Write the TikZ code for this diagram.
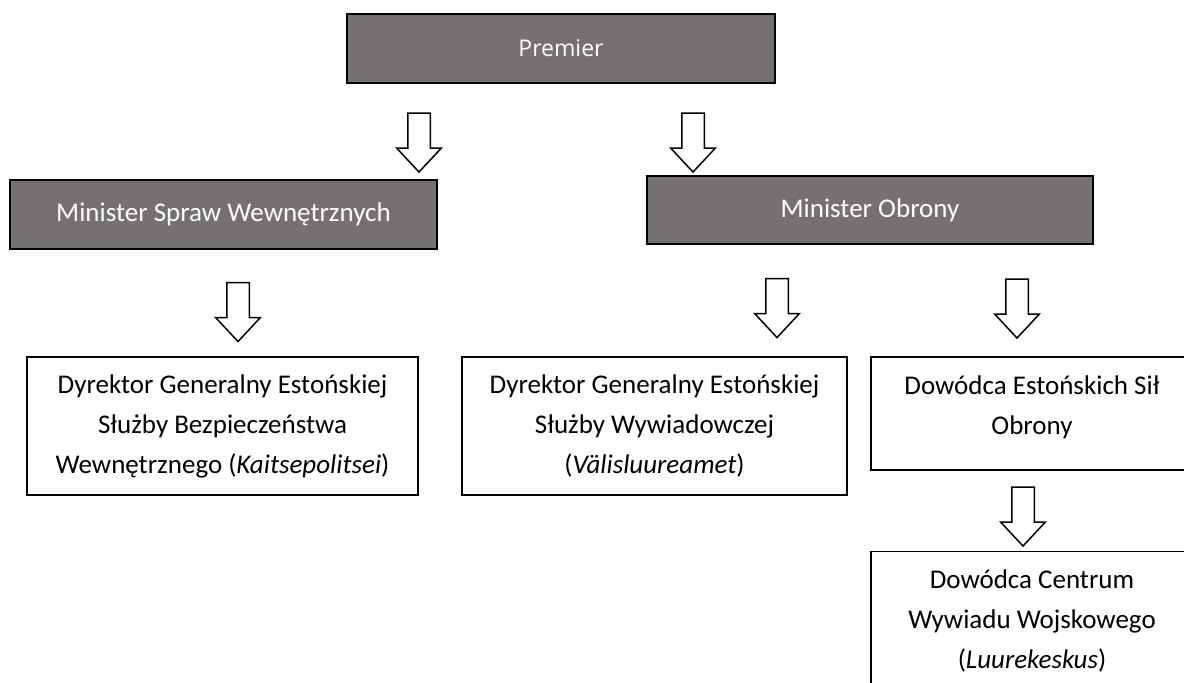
\documentclass[tikz,border=0pt]{standalone}
\usepackage{fontspec}
\setmainfont{Carlito}
\newfontfamily\premierfont{Open Sans}
\usetikzlibrary{positioning, shapes.arrows}
\definecolor{szary}{HTML}{767171}

\begin{document}
\begin{tikzpicture}[
        x=0.5pt, y=-0.5pt,
        every node/.style={font=\fontsize{13.5}{20}\selectfont}, % Carlito jako Calibri
        ciemny/.style={draw=black, line width=1pt, fill=szary, text=white, rectangle, inner sep=0pt},
        jasny/.style={draw=black, line width=0.8pt, fill=white, rectangle, inner sep=0pt, align=center},
        strzalka/.style={single arrow, draw=black, line width=0.75pt, fill=white, shape border rotate=270,
            minimum height=29.5pt, minimum width=21.5pt, inner sep=5.25pt,
            single arrow head extend=5.5pt, single arrow tip angle=86}
    ]
        \useasboundingbox (0,0) rectangle (1184,682);

        % --- Premier ---
        \node[ciemny, minimum width=214pt, minimum height=34.5pt, font=\premierfont\fontsize{11.5}{13}\selectfont] (premier) at (561,48.5) {Premier};

        % --- Ministrowie ---
        \node[strzalka] (s_msw) at (419,136.5) {};
        \node[strzalka] (s_mo) at (693,136.5) {};
        \node[ciemny, minimum width=213.5pt, minimum height=34.5pt] (msw) at (223.5,214.5) {Minister Spraw Wewnętrznych};
        \node[ciemny, minimum width=223pt, minimum height=34pt] (mo) at (870,210) {Minister Obrony};

        % --- Służby ---
        \node[strzalka] (s_kapo) at (238,306) {};
        \node[strzalka] (s_valis) at (777,302) {};
        \node[strzalka] (s_edf) at (1017,302.5) {};
        \node[jasny, minimum width=195.5pt, minimum height=69pt] (kapo) at (222.5,426)
            {Dyrektor Generalny Estońskiej\\Służby Bezpieczeństwa\\Wewnętrznego (\textit{Kaitsepolitsei})};
        \node[jasny, minimum width=192.5pt, minimum height=69pt] (valis) at (654.5,426)
            {Dyrektor Generalny Estońskiej\\Służby Wywiadowczej\\(\textit{Välisluureamet})};
        \node[jasny, minimum width=161pt, minimum height=56.5pt, text depth=8.5pt] (edf) at (1032,413.5)
            {Dowódca Estońskich Sił\\Obrony};

        % --- Wywiad wojskowy ---
        \node[strzalka] (s_luure) at (1023,510.5) {};
        \node[jasny, minimum width=161pt, minimum height=69pt, below=40pt of edf.south, anchor=north] (luure)
            {Dowódca Centrum\\Wywiadu Wojskowego\\(\textit{Luurekeskus})};
\end{tikzpicture}
\end{document}
